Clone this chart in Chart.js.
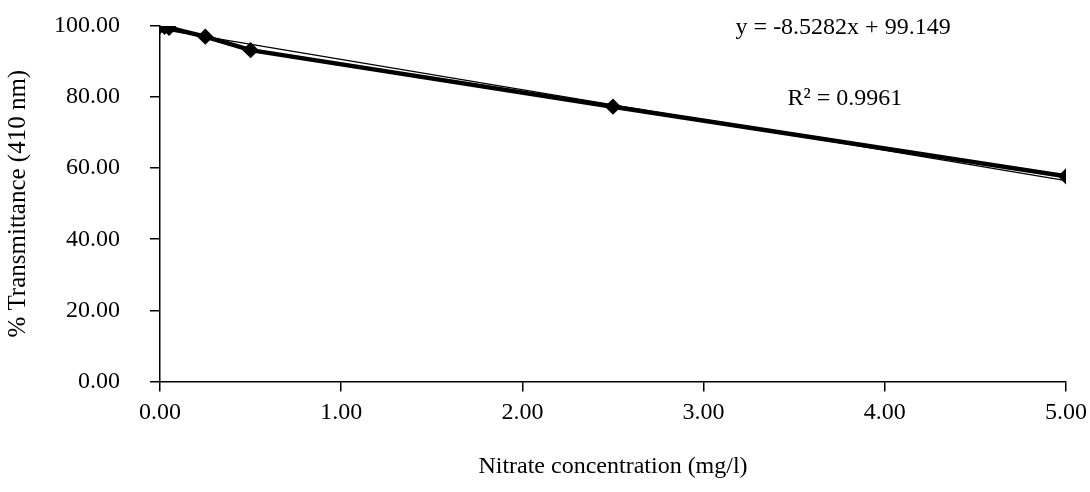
<!DOCTYPE html>
<html>
<head>
<meta charset="utf-8">
<script src="https://cdn.jsdelivr.net/npm/chart.js@4/dist/chart.umd.min.js"></script>
<style>
  html, body { margin: 0; padding: 0; background: #fff; }
  #wrap { width: 1090px; height: 492px; }
</style>
</head>
<body>
<div id="wrap"><canvas id="myChart"></canvas></div>
<script>
// nitrate standards (mg/l) and measured transmittance (%)
const nitrate = [0, 0.025, 0.05, 0.25, 0.5, 2.5, 5];
const transmittance = [100.0, 99.8, 99.5, 97.0, 93.2, 77.3, 57.7];

// linear trend line end points, y = -8.5282x + 99.149
const trendX = [0, 5];
const trendY = [99.15, 56.51];

const eqLabel = "y = -8.5282x + 99.149";
const r2Label = "R² = 0.9961";

const xTitle = "Nitrate concentration (mg/l)";
const yTitle = "% Transmittance (410 nm)";

const serif = "'Liberation Serif', 'Times New Roman', serif";

const pts = nitrate.map((x, i) => ({ x: x, y: transmittance[i] }));
const trend = trendX.map((x, i) => ({ x: x, y: trendY[i] }));

// writes the equation and R² next to the line
const eqText = {
    id: 'eqText',
    afterDatasetsDraw(chart) {
        const ctx = chart.ctx;
        const xs = chart.scales.x;
        const ys = chart.scales.y;
        ctx.save();
        ctx.fillStyle = '#000';
        ctx.font = "24px " + serif;
        ctx.textAlign = 'center';
        ctx.textBaseline = 'middle';
        ctx.fillText(eqLabel, xs.getPixelForValue(3.77), ys.getPixelForValue(99.6));
        ctx.fillText(r2Label, xs.getPixelForValue(3.78), ys.getPixelForValue(79.6));
        ctx.restore();
    }
};

const ctx = document.getElementById('myChart');
new Chart(ctx, {
    type: 'scatter',
    data: {
        datasets: [{
            data: pts,
            showLine: true,
            borderColor: '#000000',
            backgroundColor: '#000000',
            borderWidth: 4.5,
            pointStyle: 'rectRot',
            pointRadius: 5,
            tension: 0
        }, {
            data: trend,
            showLine: true,
            borderColor: '#000000',
            borderWidth: 1.3,
            pointRadius: 0,
            tension: 0
        }]
    },
    options: {
        responsive: true,
        maintainAspectRatio: false,
        animation: false,
        layout: { padding: { left: 0, right: 0, top: 26, bottom: 11 } },
        plugins: {
            legend: { display: false },
            tooltip: { enabled: false }
        },
        scales: {
            x: {
                type: 'linear',
                min: 0,
                max: 5,
                afterFit: s => {
                    s.paddingRight = 24;
                },
                border: { display: true, color: '#000', width: 1.5 },
                grid: { drawOnChartArea: false, drawTicks: true, tickLength: 10, color: '#000', lineWidth: 1.5 },
                ticks: {
                    stepSize: 1,
                    color: '#000',
                    padding: 7,
                    font: { family: serif, size: 24 },
                    callback: v => v.toFixed(2)
                },
                title: {
                    display: true,
                    text: xTitle,
                    color: '#000',
                    font: { family: serif, size: 24 },
                    padding: { top: 18, bottom: 0 }
                }
            },
            y: {
                min: 0,
                max: 100,
                afterFit: s => {
                    s.width = 160;
                    s.paddingTop = 0;
                    s.paddingBottom = 0;
                },
                border: { display: true, color: '#000', width: 1.5 },
                grid: { drawOnChartArea: false, drawTicks: true, tickLength: 10, color: '#000', lineWidth: 1.5 },
                ticks: {
                    stepSize: 20,
                    color: '#000',
                    padding: 30,
                    font: { family: serif, size: 24 },
                    callback: v => v.toFixed(2)
                },
                title: {
                    display: true,
                    text: yTitle,
                    color: '#000',
                    font: { family: serif, size: 25 },
                    padding: { top: 3, bottom: 0 }
                }
            }
        }
    },
    plugins: [eqText]
});
</script>
</body>
</html>
